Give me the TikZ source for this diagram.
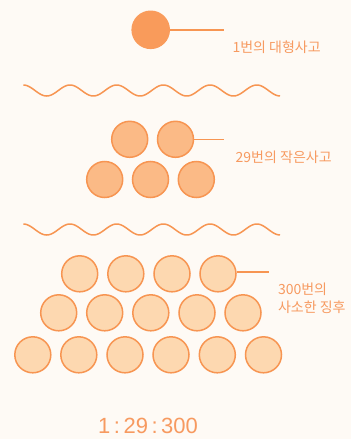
\documentclass[tikz,border=0pt]{standalone}
\usepackage{fontspec}
\setmainfont{Liberation Sans}
\newfontfamily\krfont{Noto Sans CJK KR}
\definecolor{bgc}{HTML}{FEFAF5}
\definecolor{orgline}{HTML}{F79552}
\definecolor{bigfill}{HTML}{F99B5B}
\definecolor{midfill}{HTML}{FBBA86}
\definecolor{smallfill}{HTML}{FDD8B0}
\definecolor{txtc}{HTML}{F79A60}
\begin{document}
\begin{tikzpicture}[x=1pt,y=-1pt,
  bigdot/.style={circle,inner sep=0pt,minimum size=38.6pt,fill=bigfill},
  middot/.style={circle,inner sep=0pt,minimum size=36pt,fill=midfill,draw=orgline,line width=1.5pt},
  smalldot/.style={circle,inner sep=0pt,minimum size=36pt,fill=smallfill,draw=orgline,line width=1.5pt},
  leader/.style={draw=orgline,line width=1.6pt},
  wave/.style={draw=orgline,line width=1.5pt},
  lab/.style={inner sep=0pt,anchor=base west,text=txtc,font=\krfont\fontsize{14pt}{16pt}\selectfont}]
\fill[bgc] (0,0) rectangle (351,439);
\useasboundingbox (0,0) rectangle (351,439);
% top
\node[bigdot] (c1) at (150.7,29.8) {};
\coordinate (e1) at (224,29.8);
\draw[leader] (c1.east) -- (e1);
\node[lab] (t1) at (232.3,52.6) {1번의 대형사고};
% wave 1
\draw[wave] plot[domain=0:5.5,samples=220,smooth] ({23.3+46.7*\x},{90.5-5.5*cos(360*\x)});
% middle
\node[middot] (m1) at (129.7,139.3) {};
\node[middot] (m2) at (175.5,139.3) {};
\node[middot] (m3) at (104.7,179.5) {};
\node[middot] (m4) at (150.5,179.5) {};
\node[middot] (m5) at (196.3,179.5) {};
\coordinate (e2) at (224,139.3);
\draw[leader] (m2.east) -- (e2);
\node[lab] (t2) at (235.5,162.4) {29번의 작은사고};
% wave 2
\draw[wave] plot[domain=0:5.5,samples=220,smooth] ({23.3+46.7*\x},{229.5-5.5*cos(360*\x)});
% bottom
\foreach \i/\x in {1/79.7,2/125.8,3/172,4/218}{\node[smalldot] (b\i) at (\x,273.8) {};}
\foreach \i/\x in {5/58.7,6/104.7,7/150.8,8/197,9/243}{\node[smalldot] (b\i) at (\x,312.8) {};}
\foreach \i/\x in {10/32.8,11/78.8,12/125,13/171,14/217.3,15/263.5}{\node[smalldot] (b\i) at (\x,354.8) {};}
\coordinate (e3) at (269.3,271.8);
\draw[leader] (b4.east |- e3) -- (e3);
\node[lab] (t3) at (277.8,294.4) {300번의};
\node[lab] (t4) at (277.8,312.8) {사소한 징후};
% ratio
\node[inner sep=0pt,anchor=base west,text=txtc,font=\fontsize{22pt}{24pt}\selectfont] (r) at (98,433.3) {1\hspace{3.5pt}:\hspace{3.5pt}29\hspace{3.5pt}:\hspace{3.5pt}300};
\end{tikzpicture}
\end{document}
